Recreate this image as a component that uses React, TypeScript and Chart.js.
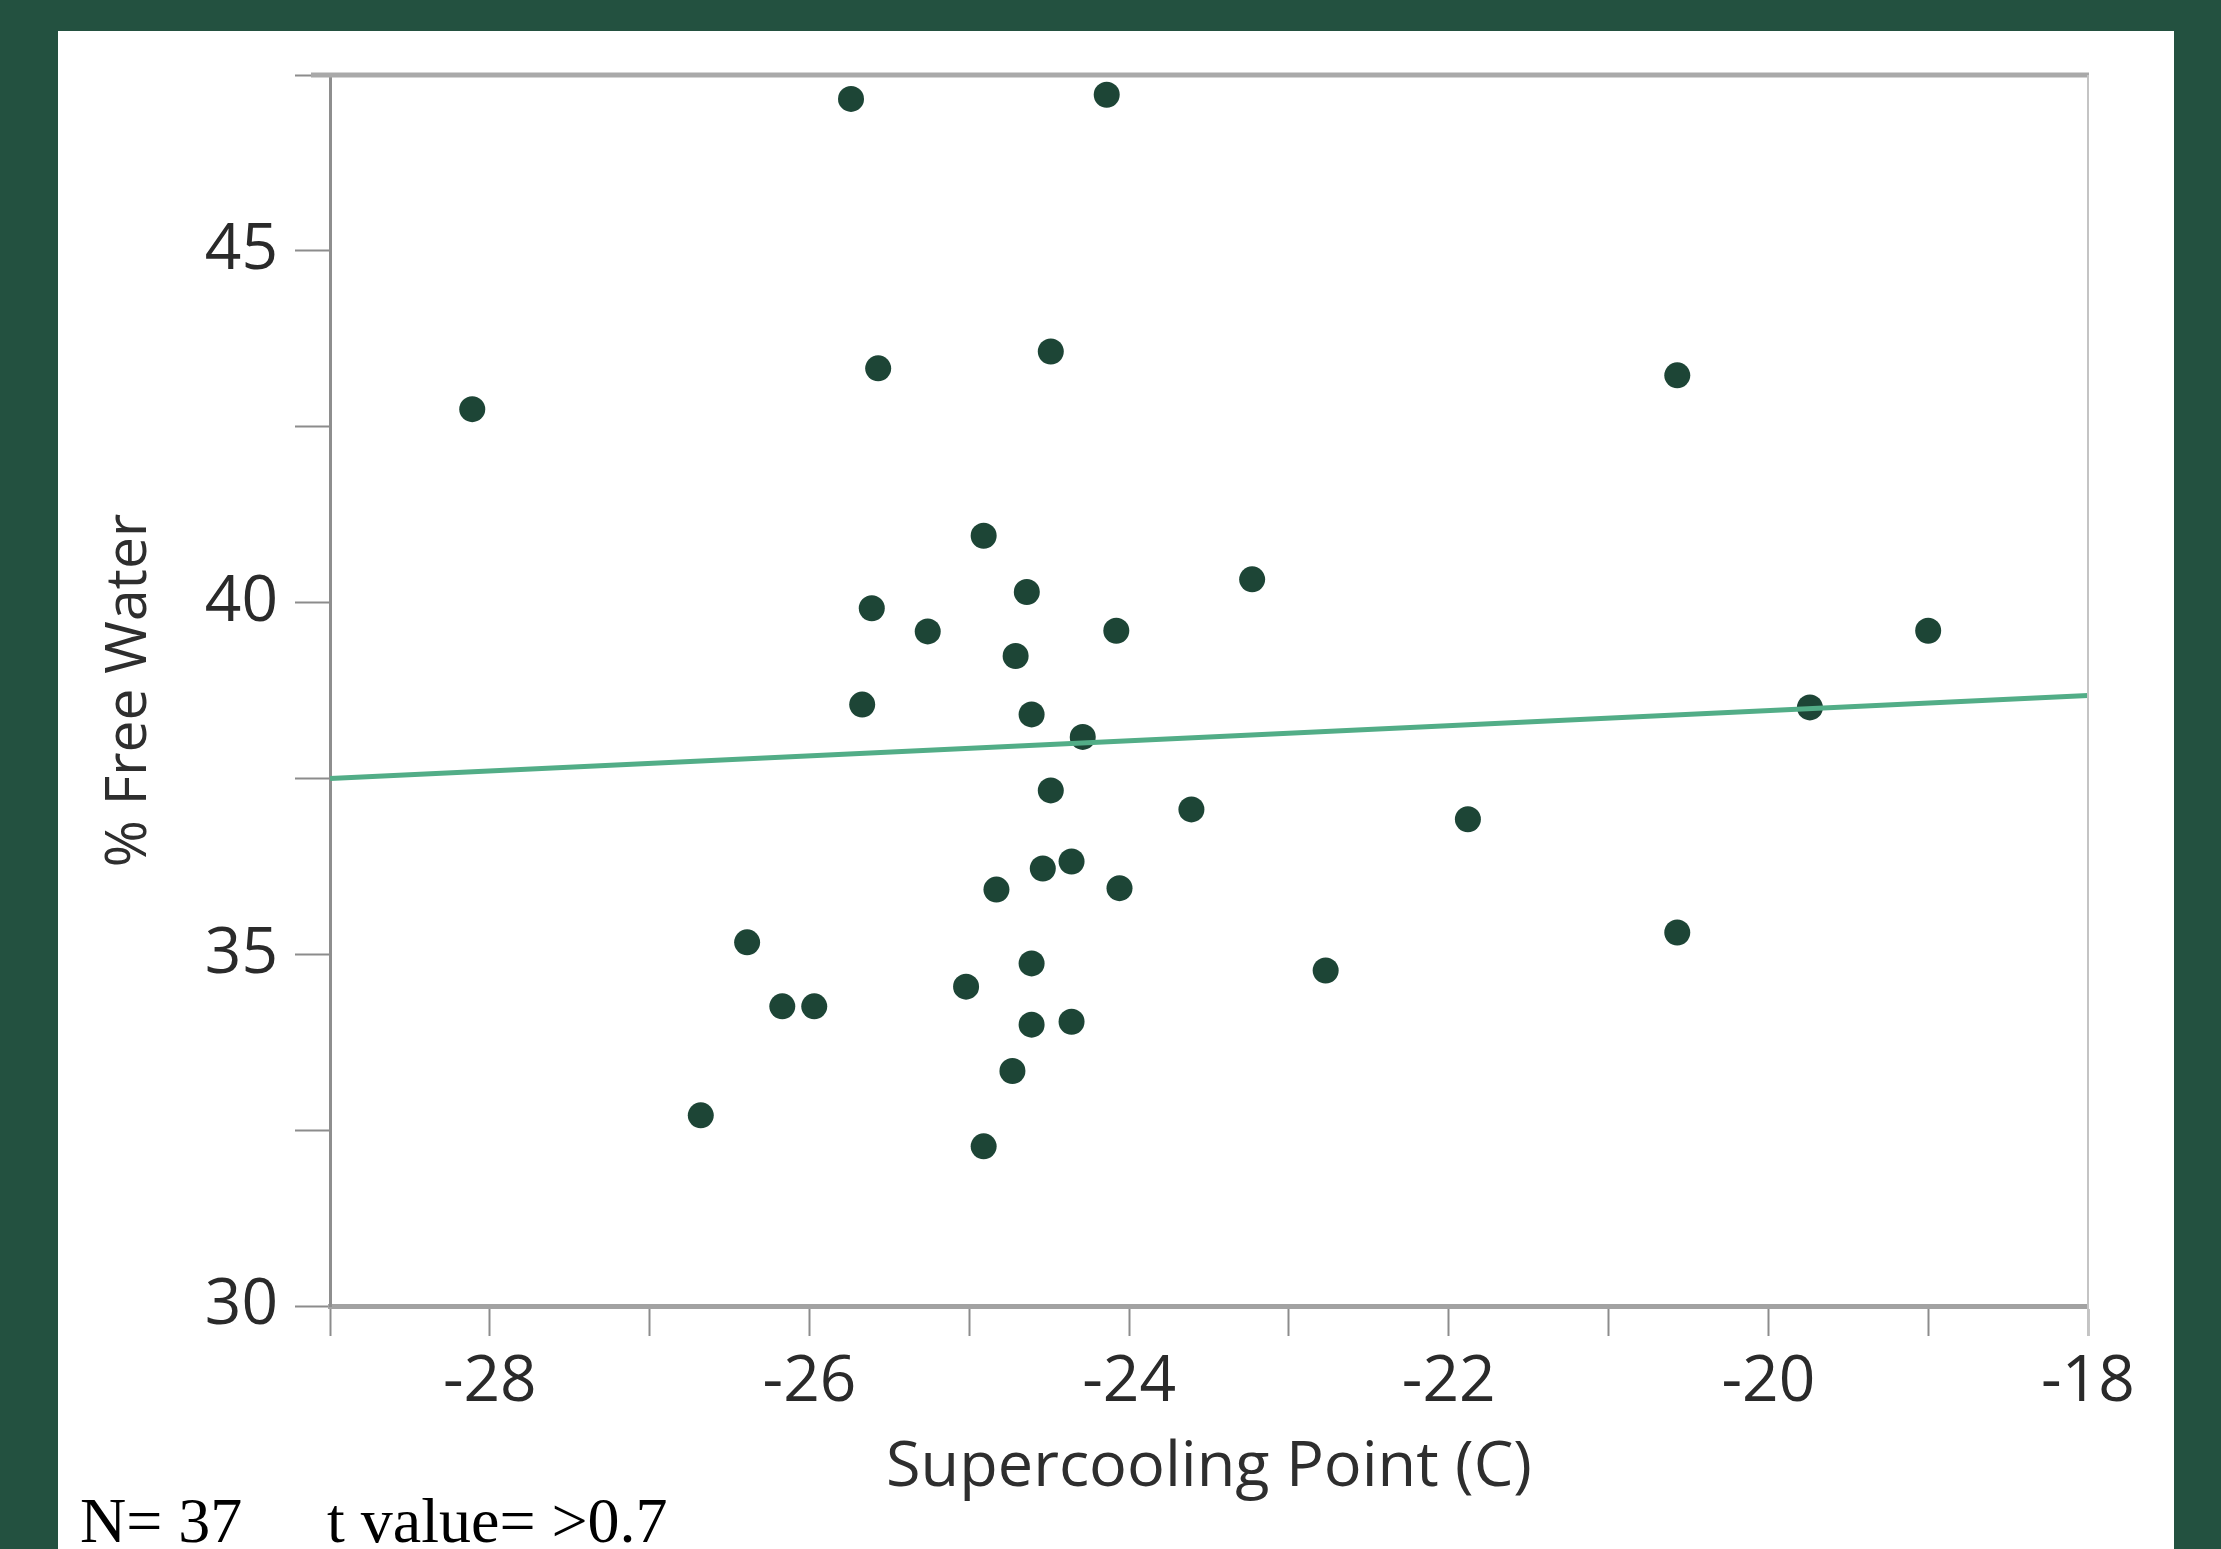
import React, { useEffect, useRef } from "react";
import { Chart, registerables } from "chart.js";

Chart.register(...registerables);

// ---- Data ----
const supercoolingPoint = [
  -25.74, -24.14, -28.11, -25.57, -24.49, -20.57, -24.91, -24.64, -23.23, -25.61,
  -25.26, -24.71, -24.08, -19.0, -25.67, -24.61, -24.29, -19.74, -24.49, -23.61,
  -21.88, -24.36, -24.54, -24.83, -24.06, -20.57, -26.39, -24.61, -22.77, -25.02,
  -26.17, -25.97, -24.61, -24.36, -24.73, -26.68, -24.91,
];
const freeWater = [
  47.16, 47.22, 42.75, 43.33, 43.57, 43.23, 40.95, 40.15, 40.33, 39.92,
  39.59, 39.24, 39.6, 39.6, 38.55, 38.41, 38.09, 38.51, 37.33, 37.06,
  36.92, 36.32, 36.22, 35.92, 35.94, 35.31, 35.17, 34.87, 34.77, 34.54,
  34.26, 34.26, 34.0, 34.04, 33.34, 32.71, 32.27,
];
const fitLineX = [-29, -18];
const fitLineY = [37.5, 38.68];

const xMajorTicks = [-28, -26, -24, -22, -20, -18];
const yMajorTicks = [30, 35, 40, 45];

const xAxisTitle = "Supercooling Point (C)";
const yAxisTitle = "% Free Water";
const noteN = "N= 37";
const noteT = "t value= >0.7";

const W = 2221;
const H = 1549;

const backdrop = {
  id: "backdrop",
  beforeDraw(chart: any) {
    const { ctx } = chart;
    ctx.save();
    ctx.fillStyle = "#235140";
    ctx.fillRect(0, 0, W, H);
    ctx.fillStyle = "#ffffff";
    ctx.fillRect(58, 31, 2116, H - 31);
    ctx.restore();
  },
  afterDatasetsDraw(chart: any) {
    const { ctx, chartArea } = chart;
    ctx.save();
    ctx.strokeStyle = "#a9a9a9";
    ctx.lineWidth = 5;
    ctx.beginPath();
    ctx.moveTo(chartArea.left - 19, chartArea.top);
    ctx.lineTo(chartArea.right + 1, chartArea.top);
    ctx.stroke();
    ctx.strokeStyle = "#c4c4c4";
    ctx.lineWidth = 2;
    ctx.beginPath();
    ctx.moveTo(chartArea.right, chartArea.top);
    ctx.lineTo(chartArea.right, chartArea.bottom + 30);
    ctx.stroke();
    ctx.restore();
  },
};

export default function App() {
  const ref = useRef<HTMLCanvasElement | null>(null);

  useEffect(() => {
    if (!ref.current) return;
    const points = supercoolingPoint.map((x, i) => ({ x, y: freeWater[i] }));
    const fit = fitLineX.map((x, i) => ({ x, y: fitLineY[i] }));
    const chart = new Chart(ref.current, {
      type: "scatter",
      data: {
        datasets: [
          {
            type: "line",
            label: "Fit",
            data: fit,
            borderColor: "#52ad87",
            borderWidth: 5,
            pointRadius: 0,
            showLine: true,
            fill: false,
            order: 0,
          } as any,
          {
            label: "% Free Water",
            data: points,
            backgroundColor: "#1d4536",
            borderColor: "#1d4536",
            borderWidth: 0,
            pointRadius: 13,
            order: 1,
          },
        ],
      },
      plugins: [backdrop],
      options: {
        responsive: false,
        devicePixelRatio: 1,
        animation: false,
        events: [],
        layout: { padding: { left: 58, right: 133, top: 75, bottom: 0 } },
        plugins: {
          legend: { display: false },
          tooltip: { enabled: false },
          title: { display: false },
        },
        scales: {
          x: {
            type: "linear",
            min: -29,
            max: -18,
            afterFit: (scale: any) => {
              scale.height = 243;
            },
            border: { display: true, color: "#a2a2a2", width: 5 },
            grid: {
              drawOnChartArea: false,
              drawTicks: true,
              tickLength: 30,
              tickColor: "#8c8c8c",
              tickWidth: 2,
            },
            ticks: {
              stepSize: 1,
              autoSkip: false,
              maxRotation: 0,
              padding: 8,
              color: "#2a2a2a",
              font: { family: "'Open Sans'", size: 64 },
              callback: (v: any) => (xMajorTicks.includes(Number(v)) ? String(v) : ""),
            },
            title: {
              display: true,
              text: xAxisTitle,
              color: "#2e2e2e",
              font: { family: "'Open Sans'", size: 63 },
              padding: { top: 0, bottom: 43 },
            },
          },
          y: {
            type: "linear",
            min: 30,
            max: 47.5,
            afterFit: (scale: any) => {
              scale.width = 272;
            },
            border: { display: true, color: "#8e8e8e", width: 3 },
            grid: {
              drawOnChartArea: false,
              drawTicks: true,
              tickLength: 35,
              tickColor: "#8c8c8c",
              tickWidth: 2,
            },
            ticks: {
              stepSize: 2.5,
              autoSkip: false,
              padding: 17,
              color: "#2a2a2a",
              font: { family: "'Open Sans'", size: 64 },
              callback: (v: any) => (yMajorTicks.includes(Number(v)) ? String(v) : ""),
            },
            title: {
              display: true,
              text: yAxisTitle,
              color: "#2e2e2e",
              font: { family: "'Open Sans'", size: 57 },
              padding: { top: 38, bottom: 0 },
            },
          },
        },
      },
    });
    return () => chart.destroy();
  }, []);

  const noteStyle: React.CSSProperties = {
    position: "absolute",
    top: 1489,
    fontFamily: "'Liberation Serif', 'Times New Roman', serif",
    fontSize: 64,
    lineHeight: "64px",
    color: "#000",
    whiteSpace: "pre",
    margin: 0,
  };

  return (
    <div
      style={{
        position: "fixed",
        left: 0,
        top: 0,
        width: W,
        height: H,
        overflow: "hidden",
        background: "#235140",
      }}
    >
      <canvas ref={ref} width={W} height={H} style={{ display: "block", width: W, height: H }} />
      <div style={{ ...noteStyle, left: 80 }}>{noteN}</div>
      <div style={{ ...noteStyle, left: 327 }}>{noteT}</div>
    </div>
  );
}
